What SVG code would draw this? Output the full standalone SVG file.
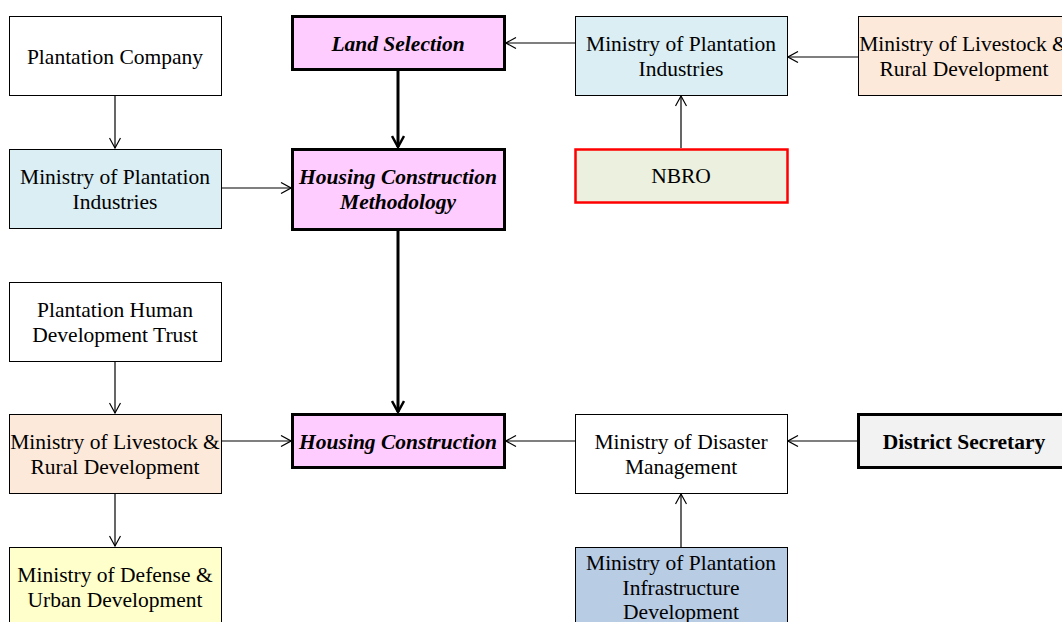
<svg xmlns="http://www.w3.org/2000/svg" width="1062" height="622" viewBox="0 0 1062 622">
  <style>
    .box { stroke: #000; stroke-width: 1; }
    .key { stroke: #000; stroke-width: 3; fill: #FFCCFF; }
    text { font-family: "Liberation Serif", "Times New Roman", serif; font-size: 21.5px; fill: #000; text-anchor: middle; }
    .bi { font-weight: bold; font-style: italic; }
    .b { font-weight: bold; }
    .thin { stroke: #000; stroke-width: 1.2; fill: none; marker-end: url(#open); }
    .thick { stroke: #000; stroke-width: 3; fill: none; marker-end: url(#openBold); }
  </style>
  <defs>
    <marker id="open" viewBox="0 0 12 12" refX="11" refY="6" markerWidth="12" markerHeight="12" markerUnits="userSpaceOnUse" orient="auto">
      <path d="M1,0.5 L11,6 L1,11.5" fill="none" stroke="#000" stroke-width="1.2"/>
    </marker>
    <marker id="openBold" viewBox="0 0 14 14" refX="12" refY="7" markerWidth="14" markerHeight="14" markerUnits="userSpaceOnUse" orient="auto">
      <path d="M1,1 L12,7 L1,13" fill="none" stroke="#000" stroke-width="2.5"/>
    </marker>
  </defs>
  <rect width="1062" height="622" fill="#fff"/>

  <g id="connectors">
    <line class="thin" x1="115" y1="95" x2="115" y2="148"/>
    <line class="thin" x1="221" y1="188" x2="291" y2="188"/>
    <line class="thin" x1="115" y1="361" x2="115" y2="413"/>
    <line class="thin" x1="221" y1="441" x2="291" y2="441"/>
    <line class="thin" x1="115" y1="493" x2="115" y2="546"/>
    <line class="thick" x1="398" y1="70" x2="398" y2="147"/>
    <line class="thick" x1="398" y1="230" x2="398" y2="412"/>
    <line class="thin" x1="575" y1="43" x2="506" y2="43"/>
    <line class="thin" x1="858" y1="57" x2="788" y2="57"/>
    <line class="thin" x1="681" y1="148" x2="681" y2="96"/>
    <line class="thin" x1="575" y1="441" x2="506" y2="441"/>
    <line class="thin" x1="857" y1="441" x2="788" y2="441"/>
    <line class="thin" x1="681" y1="547" x2="681" y2="494"/>
  </g>

  <g id="plantation-company">
    <rect class="box" x="9.5" y="16.5" width="212" height="79" fill="#fff"/>
    <text x="115" y="64">Plantation Company</text>
  </g>
  <g id="ministry-plantation-left">
    <rect class="box" x="9.5" y="149.5" width="212" height="79" fill="#DAEEF3"/>
    <text x="115" y="184">Ministry of Plantation</text>
    <text x="115" y="209">Industries</text>
  </g>
  <g id="phdt">
    <rect class="box" x="9.5" y="282.5" width="212" height="79" fill="#fff"/>
    <text x="115" y="317">Plantation Human</text>
    <text x="115" y="342">Development Trust</text>
  </g>
  <g id="ministry-livestock-left">
    <rect class="box" x="9.5" y="414.5" width="212" height="79" fill="#FDE9D9"/>
    <text x="115" y="449">Ministry of Livestock &amp;</text>
    <text x="115" y="474">Rural Development</text>
  </g>
  <g id="ministry-defense">
    <rect class="box" x="9.5" y="547.5" width="212" height="84" fill="#FFFFCC"/>
    <text x="115" y="582">Ministry of Defense &amp;</text>
    <text x="115" y="607">Urban Development</text>
  </g>

  <g id="land-selection">
    <rect class="key" x="292.5" y="16.5" width="212" height="53"/>
    <text class="bi" x="398" y="51">Land Selection</text>
  </g>
  <g id="housing-methodology">
    <rect class="key" x="292.5" y="149.5" width="212" height="80"/>
    <text class="bi" x="398" y="184">Housing Construction</text>
    <text class="bi" x="398" y="209">Methodology</text>
  </g>
  <g id="housing-construction">
    <rect class="key" x="292.5" y="414.5" width="212" height="53"/>
    <text class="bi" x="398" y="449">Housing Construction</text>
  </g>

  <g id="ministry-plantation-right">
    <rect class="box" x="575.5" y="16.5" width="212" height="79" fill="#DAEEF3"/>
    <text x="681" y="51">Ministry of Plantation</text>
    <text x="681" y="76">Industries</text>
  </g>
  <g id="nbro">
    <rect x="575.5" y="149.5" width="212" height="53" fill="#EBF1DE" stroke="#FF0000" stroke-width="2.5"/>
    <text x="681" y="183">NBRO</text>
  </g>
  <g id="ministry-disaster">
    <rect class="box" x="575.5" y="414.5" width="212" height="79" fill="#fff"/>
    <text x="681" y="449">Ministry of Disaster</text>
    <text x="681" y="474">Management</text>
  </g>
  <g id="ministry-infrastructure">
    <rect class="box" x="575.5" y="547.5" width="212" height="84" fill="#B8CCE4"/>
    <text x="681" y="570">Ministry of Plantation</text>
    <text x="681" y="595">Infrastructure</text>
    <text x="681" y="619">Development</text>
  </g>

  <g id="ministry-livestock-right">
    <rect class="box" x="858.5" y="16.5" width="212" height="79" fill="#FDE9D9"/>
    <text x="964" y="51">Ministry of Livestock &amp;</text>
    <text x="964" y="76">Rural Development</text>
  </g>
  <g id="district-secretary">
    <rect x="858.5" y="414.5" width="212" height="53" fill="#F2F2F2" stroke="#000" stroke-width="3"/>
    <text class="b" x="964" y="449">District Secretary</text>
  </g>
</svg>
